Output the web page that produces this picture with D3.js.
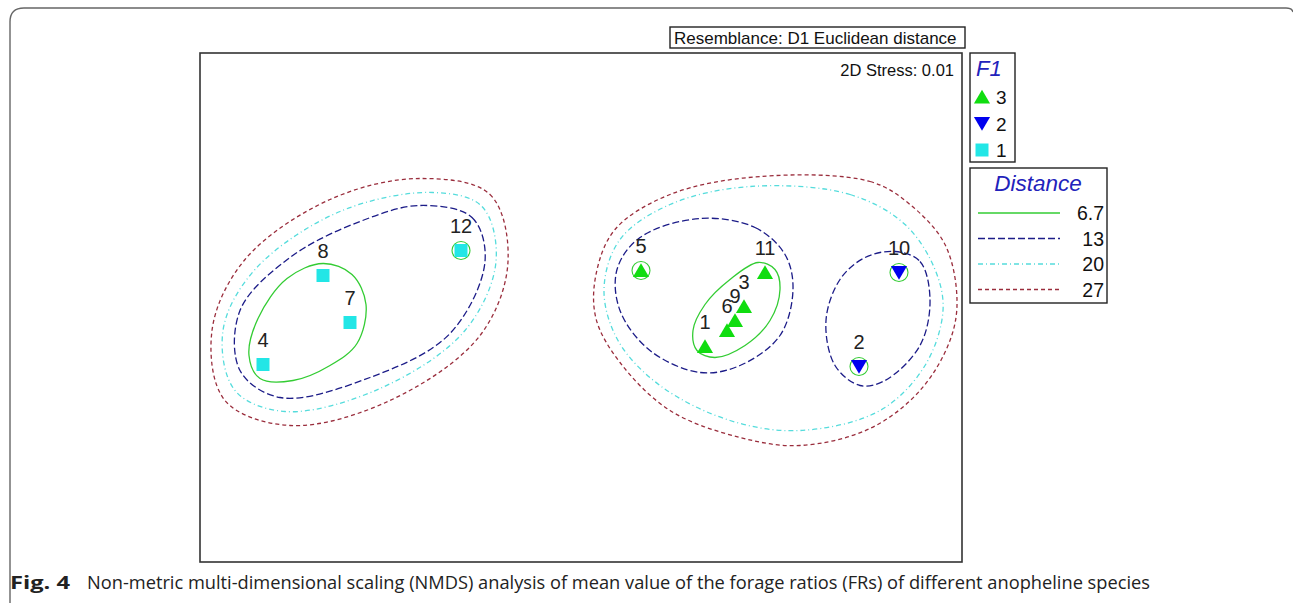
<!DOCTYPE html>
<html>
<head>
<meta charset="utf-8">
<script src="https://cdn.jsdelivr.net/npm/d3@7"></script>
<style>
  body { margin: 0; background: #fff; }
  text { font-family: "Liberation Sans", Arial, sans-serif; }
</style>
</head>
<body>
<div id="chart"></div>
<script>
// samples (NMDS coordinates, arbitrary units)
const sampleIds = ["1", "2", "3", "4", "5", "6", "7", "8", "9", "10", "11", "12"];
const sampleX = [1.24, 2.78, 1.63, -3.18, 0.60, 1.46, -2.31, -2.58, 1.54, 3.18, 1.84, -1.20];
const sampleY = [-0.39, -0.59, 0.01, -0.57, 0.37, -0.23, -0.15, 0.32, -0.13, 0.35, 0.35, 0.57];
const sampleGroup = ["3", "2", "3", "1", "3", "3", "1", "1", "3", "2", "3", "1"];

const groupLevels = ["3", "2", "1"];
const distanceLevels = ["6.7", "13", "20", "27"];

// cluster outlines at each distance level
const contours67 = [
  [[-2.58,0.44],[-2.29,0.33],[-2.15,0.03],[-2.24,-0.36],[-2.51,-0.58],[-2.88,-0.73],[-3.21,-0.71],[-3.32,-0.48],[-3.23,-0.11],[-2.94,0.29]],
  [[1.77,0.45],[1.94,0.38],[1.99,0.18],[1.89,-0.13],[1.64,-0.38],[1.34,-0.50],[1.16,-0.43],[1.12,-0.23],[1.24,0.03],[1.49,0.28]]
];
const singletons67 = ["12", "5", "10", "2"];
const contours13 = [
  [[-1.61,1.02],[-1.09,0.90],[-0.96,0.46],[-1.31,-0.26],[-2.11,-0.70],[-3.01,-0.90],[-3.41,-0.63],[-3.41,-0.03],[-2.91,0.50],[-2.21,0.86]],
  [[1.19,0.89],[1.74,0.80],[2.04,0.53],[2.12,0.18],[1.99,-0.28],[1.59,-0.58],[1.19,-0.65],[0.69,-0.43],[0.39,-0.03],[0.36,0.38],[0.59,0.70]],
  [[3.14,0.56],[3.39,0.46],[3.49,0.08],[3.39,-0.38],[3.04,-0.73],[2.79,-0.78],[2.54,-0.58],[2.45,-0.13],[2.59,0.28],[2.84,0.50]]
];
const contours20 = [
  [[-1.48,1.15],[-0.99,1.01],[-0.85,0.46],[-1.16,-0.23],[-2.01,-0.81],[-2.96,-1.04],[-3.46,-0.83],[-3.58,-0.23],[-3.26,0.38],[-2.41,0.96]],
  [[1.69,1.21],[2.69,1.13],[3.24,0.83],[3.54,0.38],[3.62,-0.03],[3.44,-0.58],[2.99,-1.03],[2.19,-1.23],[1.49,-1.13],[0.79,-0.78],[0.37,-0.33],[0.23,0.18],[0.39,0.68],[0.89,1.03]]
];
const contours27 = [
  [[-1.61,1.29],[-0.91,1.13],[-0.73,0.46],[-1.01,-0.28],[-1.91,-0.93],[-2.91,-1.18],[-3.56,-0.93],[-3.69,-0.23],[-3.36,0.48],[-2.51,1.08]],
  [[1.79,1.31],[2.89,1.26],[3.29,1.03],[3.64,0.63],[3.76,0.08],[3.69,-0.33],[3.39,-0.83],[2.89,-1.21],[2.19,-1.38],[1.59,-1.30],[0.89,-1.03],[0.39,-0.55],[0.15,-0.11],[0.15,0.33],[0.34,0.78],[0.89,1.13]]
];

const width = 1293, height = 603;
const box = {x0: 200, x1: 962, y0: 53, y1: 562};

const x = d3.scaleLinear().domain([-3.81, 3.81]).range([box.x0, box.x1]);
const y = d3.scaleLinear().domain([-2.545, 2.545]).range([box.y1, box.y0]);

const groupColor = d3.scaleOrdinal().domain(groupLevels).range(["#10dd10", "#0000ee", "#22e6e6"]);
const groupShape = d3.scaleOrdinal().domain(groupLevels).range(["up", "down", "square"]);
const levelColor = d3.scaleOrdinal().domain(distanceLevels).range(["#33cc33", "#1c1c88", "#55dcdc", "#9a2d3c"]);
const levelDash = d3.scaleOrdinal().domain(distanceLevels).range(["none", "7,3", "5,3,1,3", "4,3"]);

const svg = d3.select("#chart").append("svg")
    .attr("width", width)
    .attr("height", height);

// outer figure frame
svg.append("path")
    .attr("d", "M10,603 L10,22 Q10,8 24,8 L1286,8 Q1292,8 1293,12")
    .attr("fill", "none")
    .attr("stroke", "#666")
    .attr("stroke-width", 1.4);

// plot box
svg.append("rect")
    .attr("x", box.x0).attr("y", box.y0)
    .attr("width", box.x1 - box.x0).attr("height", box.y1 - box.y0)
    .attr("fill", "none").attr("stroke", "#333").attr("stroke-width", 1.6);

// resemblance label
svg.append("rect")
    .attr("x", 670).attr("y", 27).attr("width", 295).attr("height", 21)
    .attr("fill", "none").attr("stroke", "#222").attr("stroke-width", 1.4);
svg.append("text")
    .attr("x", 674).attr("y", 43.5)
    .attr("font-size", 17).attr("fill", "#111")
    .text("Resemblance: D1 Euclidean distance");

svg.append("text")
    .attr("x", 954).attr("y", 76)
    .attr("text-anchor", "end")
    .attr("font-size", 16.5).attr("fill", "#111")
    .text("2D Stress: 0.01");

const outline = d3.line()
    .x(function(d) { return x(d[0]); })
    .y(function(d) { return y(d[1]); })
    .curve(d3.curveCatmullRomClosed.alpha(0.5));

function drawContours(list, level) {
  svg.append("g").selectAll("path")
    .data(list)
    .enter()
      .append("path")
      .attr("d", outline)
      .attr("fill", "none")
      .attr("stroke", levelColor(level))
      .attr("stroke-width", 1.3)
      .attr("stroke-dasharray", levelDash(level));
}

drawContours(contours27, "27");
drawContours(contours20, "20");
drawContours(contours13, "13");
drawContours(contours67, "6.7");

// single-sample clusters at 6.7
svg.append("g").selectAll("circle")
  .data(singletons67)
  .enter()
    .append("circle")
    .attr("cx", function(id) { return x(sampleX[sampleIds.indexOf(id)]); })
    .attr("cy", function(id) { return y(sampleY[sampleIds.indexOf(id)]); })
    .attr("r", 9)
    .attr("fill", "none")
    .attr("stroke", levelColor("6.7"))
    .attr("stroke-width", 1.1);

function markerPath(shape, s) {
  if (shape === "up") return "M0," + (-s * 0.55) + "L" + (s * 0.62) + "," + (s * 0.5) + "L" + (-s * 0.62) + "," + (s * 0.5) + "Z";
  if (shape === "down") return "M0," + (s * 0.55) + "L" + (s * 0.62) + "," + (-s * 0.5) + "L" + (-s * 0.62) + "," + (-s * 0.5) + "Z";
  return "M" + (-s * 0.5) + "," + (-s * 0.5) + "h" + s + "v" + s + "h" + (-s) + "Z";
}

const samples = sampleIds.map(function(id, i) {
  return {id: id, x: sampleX[i], y: sampleY[i], group: sampleGroup[i]};
});

const pts = svg.append("g").selectAll("g")
  .data(samples)
  .enter()
    .append("g")
    .attr("transform", function(d) { return "translate(" + x(d.x) + "," + y(d.y) + ")"; });

pts.append("path")
    .attr("d", function(d) { return markerPath(groupShape(d.group), 13); })
    .attr("fill", function(d) { return groupColor(d.group); });

pts.append("text")
    .attr("y", -18)
    .attr("text-anchor", "middle")
    .attr("font-size", 20)
    .attr("fill", "#222")
    .text(function(d) { return d.id; });

// F1 legend
const f1 = svg.append("g");
f1.append("rect")
    .attr("x", 970).attr("y", 53).attr("width", 45).attr("height", 109)
    .attr("fill", "none").attr("stroke", "#222").attr("stroke-width", 1.4);
f1.append("text")
    .attr("x", 976).attr("y", 76)
    .attr("font-size", 22).attr("font-style", "italic").attr("fill", "#2222bb")
    .text("F1");
const f1Rows = f1.selectAll("g.row")
  .data(groupLevels)
  .enter()
    .append("g")
    .attr("class", "row")
    .attr("transform", function(d, i) { return "translate(982," + (97 + i * 26.5) + ")"; });
f1Rows.append("path")
    .attr("d", function(d) { return markerPath(groupShape(d), 13); })
    .attr("fill", function(d) { return groupColor(d); });
f1Rows.append("text")
    .attr("x", 14).attr("y", 7)
    .attr("font-size", 19).attr("fill", "#111")
    .text(function(d) { return d; });

// Distance legend
const dl = svg.append("g");
dl.append("rect")
    .attr("x", 970).attr("y", 168).attr("width", 137).attr("height", 135)
    .attr("fill", "none").attr("stroke", "#222").attr("stroke-width", 1.4);
dl.append("text")
    .attr("x", 1038).attr("y", 191)
    .attr("text-anchor", "middle")
    .attr("font-size", 22.5).attr("font-style", "italic").attr("fill", "#2222bb")
    .text("Distance");
const dRows = dl.selectAll("g.row")
  .data(distanceLevels)
  .enter()
    .append("g")
    .attr("class", "row")
    .attr("transform", function(d, i) { return "translate(0," + (213 + i * 25.5) + ")"; });
dRows.append("line")
    .attr("x1", 978).attr("x2", 1060)
    .attr("stroke", function(d) { return levelColor(d); })
    .attr("stroke-width", 1.3)
    .attr("stroke-dasharray", function(d) { return levelDash(d); });
dRows.append("text")
    .attr("x", 1104).attr("y", 7)
    .attr("text-anchor", "end")
    .attr("font-size", 19.5).attr("fill", "#111")
    .text(function(d) { return d; });

// caption
const cap = svg.append("text")
    .attr("x", 10).attr("y", 589)
    .attr("font-size", 18)
    .style("font-family", "'Open Sans', 'Noto Sans', sans-serif")
    .attr("fill", "#222");
cap.append("tspan").attr("font-weight", "bold")
    .attr("textLength", 60)
    .attr("lengthAdjust", "spacingAndGlyphs")
    .text("Fig. 4");
cap.append("tspan").attr("x", 87)
    .attr("textLength", 1063)
    .attr("lengthAdjust", "spacingAndGlyphs")
    .text("Non-metric multi-dimensional scaling (NMDS) analysis of mean value of the forage ratios (FRs) of different anopheline species");
</script>
</body>
</html>
